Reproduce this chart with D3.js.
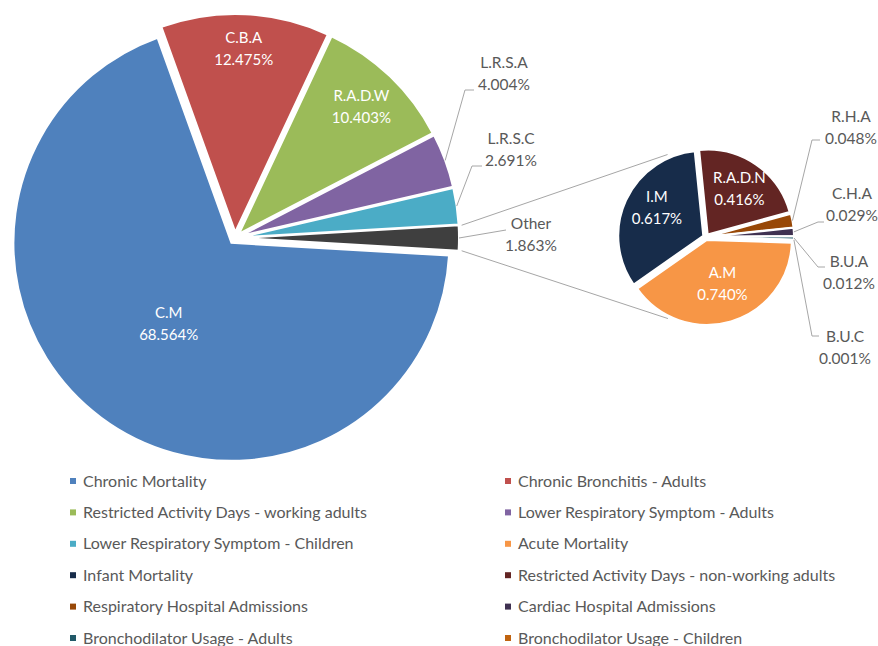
<!DOCTYPE html>
<html>
<head>
<meta charset="utf-8">
<script src="https://cdn.jsdelivr.net/npm/d3@7"></script>
<style>
    body { margin: 0; background: #fff; }
    svg text { font-family: Lato, "Open Sans", sans-serif; }
</style>
</head>
<body>
<script>
// main pie, share of total (%)
const main_labels = ["C.M", "C.B.A", "R.A.D.W", "L.R.S.A", "L.R.S.C", "Other"];
const main_values = [68.564, 12.475, 10.403, 4.004, 2.691, 1.863];

// second pie: what "Other" is made of (% of total)
const sub_labels = ["A.M", "I.M", "R.A.D.N", "R.H.A", "C.H.A", "B.U.A", "B.U.C"];
const sub_values = [0.740, 0.617, 0.416, 0.048, 0.029, 0.012, 0.001];

// legend, row by row (two columns)
const legend_keys = ["C.M", "C.B.A", "R.A.D.W", "L.R.S.A", "L.R.S.C", "A.M",
    "I.M", "R.A.D.N", "R.H.A", "C.H.A", "B.U.A", "B.U.C"];
const legend_names = ["Chronic Mortality", "Chronic Bronchitis - Adults",
    "Restricted Activity Days - working adults", "Lower Respiratory Symptom - Adults",
    "Lower Respiratory Symptom - Children", "Acute Mortality",
    "Infant Mortality", "Restricted Activity Days - non-working adults",
    "Respiratory Hospital Admissions", "Cardiac Hospital Admissions",
    "Bronchodilator Usage - Adults", "Bronchodilator Usage - Children"];

const colors = {
    "C.M": "#4f81bd", "C.B.A": "#c0504d", "R.A.D.W": "#9bbb59", "L.R.S.A": "#8064a2",
    "L.R.S.C": "#4bacc6", "Other": "#3f3f3f", "A.M": "#f79646", "I.M": "#172c4a",
    "R.A.D.N": "#632523", "R.H.A": "#984807", "C.H.A": "#3f3151", "B.U.A": "#215968",
    "B.U.C": "#c0630f"
};

// where labels sit inside a slice: fraction of radius, angle nudge (deg)
const inside_labels = {
    "C.M": [0.47, 1], "C.B.A": [0.84, 0], "R.A.D.W": [0.81, 0],
    "A.M": [0.55, -3], "I.M": [0.64, 7], "R.A.D.N": [0.66, 0]
};
// labels outside with leader lines: text centre + elbow of the leader
const outside_labels = {
    "L.R.S.A": { x: 504, y: 63, elbow: [[465, 90], [474, 90]] },
    "L.R.S.C": { x: 511, y: 139, elbow: [[472, 166], [482, 166]] },
    "Other": { x: 531, y: 224, elbow: [[506, 230]] },
    "R.H.A": { x: 851, y: 117, elbow: [[812, 140], [820, 140]] },
    "C.H.A": { x: 852, y: 194, elbow: [[818, 222], [824, 222]] },
    "B.U.A": { x: 849, y: 262, elbow: [[818, 267], [825, 267]] },
    "B.U.C": { x: 845, y: 337, elbow: [[812, 336], [819, 336]] }
};

class PieOfPieChart {
    constructor(name) {
        this.name = name;
        this.total_width = 878;
        this.total_height = 646;
        this.svg = null;
        this.main = { cx: 235, cy: 238, r: 218, explode: 6 };
        this.sub = { cx: 706, cy: 237, r: 85, explode: 3, start_deg: 92 };
        this.text_color = "#595959";
        this.line_color = "#a6a6a6";
    }

    construct_svg(self = this) {
        self.svg = d3.select("body").append("svg")
            .attr("width", self.total_width)
            .attr("height", self.total_height)
            .attr("id", self.name);
    }

    point(p, a, r) {
        return [p.cx + Math.sin(a) * r, p.cy - Math.cos(a) * r];
    }

    draw_pie(p, labels, values, start, self = this) {
        const data = labels.map((d, i) => ({ key: d, value: values[i] }));
        const pie = d3.pie().sort(null).value(d => d.value)
            .startAngle(start).endAngle(start + 2 * Math.PI);
        const arcs = pie(data);
        const arc = d3.arc().innerRadius(0).outerRadius(p.r);

        const g = self.svg.append("g").attr("transform", "translate(" + p.cx + "," + p.cy + ")");
        const slice = g.selectAll(".slice").data(arcs).enter().append("g")
            .attr("class", "slice")
            .attr("transform", function (d) {
                const m = (d.startAngle + d.endAngle) / 2;
                return "translate(" + Math.sin(m) * p.explode + "," + (-Math.cos(m) * p.explode) + ")";
            });
        slice.append("path")
            .attr("d", arc)
            .attr("fill", d => colors[d.data.key])
            .attr("stroke", "#fff")
            .attr("stroke-width", 2);

        // labels inside slices
        slice.filter(d => inside_labels[d.data.key] !== undefined).each(function (d) {
            const pos = inside_labels[d.data.key];
            const m = (d.startAngle + d.endAngle) / 2 + pos[1] * Math.PI / 180;
            const x = Math.sin(m) * p.r * pos[0];
            const y = -Math.cos(m) * p.r * pos[0];
            const t = d3.select(this).append("text")
                .attr("text-anchor", "middle")
                .attr("fill", "#fff")
                .attr("font-size", 15);
            t.append("tspan").attr("x", x).attr("y", y - 11).attr("dy", "0.35em").text(d.data.key);
            t.append("tspan").attr("x", x).attr("y", y + 11).attr("dy", "0.35em").text(d.data.value.toFixed(3) + "%");
        });

        // labels outside with leader lines
        arcs.filter(d => outside_labels[d.data.key] !== undefined).forEach(function (d) {
            const lab = outside_labels[d.data.key];
            const m = (d.startAngle + d.endAngle) / 2;
            const s = self.point(p, m, p.r + p.explode);
            self.svg.append("polyline")
                .attr("points", [s].concat(lab.elbow).map(q => q.join(",")).join(" "))
                .attr("fill", "none")
                .attr("stroke", self.line_color)
                .attr("stroke-width", 1);
            const t = self.svg.append("text")
                .attr("text-anchor", "middle")
                .attr("fill", self.text_color)
                .attr("font-size", 15.5);
            t.append("tspan").attr("x", lab.x).attr("y", lab.y).attr("dy", "0.35em").text(d.data.key);
            t.append("tspan").attr("x", lab.x).attr("y", lab.y + 22).attr("dy", "0.35em").text(d.data.value.toFixed(3) + "%");
        });
        return arcs;
    }

    construct_graph(self = this) {
        const total = d3.sum(main_values);
        const other = main_values[main_labels.indexOf("Other")];
        // "Other" is centred at 3 o'clock
        const main_start = Math.PI / 2 + Math.PI * other / total;
        const main_arcs = self.draw_pie(self.main, main_labels, main_values, main_start);
        self.draw_pie(self.sub, sub_labels, sub_values, self.sub.start_deg * Math.PI / 180);

        // connector lines from "Other" to the second pie
        const o = main_arcs.find(d => d.data.key === "Other");
        const m = self.main;
        const om = (o.startAngle + o.endAngle) / 2;
        const shift = [Math.sin(om) * m.explode, -Math.cos(om) * m.explode];
        const a0 = self.point(m, o.startAngle, m.r);
        const a1 = self.point(m, o.endAngle, m.r);
        const b0 = self.point(self.sub, -25 * Math.PI / 180, self.sub.r + 6);
        const b1 = self.point(self.sub, 205 * Math.PI / 180, self.sub.r + 5);
        [[a0, b0], [a1, b1]].forEach(function (ln) {
            self.svg.append("line")
                .attr("x1", ln[0][0] + shift[0] + 3).attr("y1", ln[0][1] + shift[1])
                .attr("x2", ln[1][0]).attr("y2", ln[1][1])
                .attr("stroke", self.line_color)
                .attr("stroke-width", 1);
        });
    }

    draw_legend(self = this) {
        const rows = d3.scaleLinear().domain([0, 5]).range([481, 638]);
        const cols = [73, 508];
        const item = self.svg.append("g").attr("class", "legend")
            .selectAll("g").data(legend_keys).enter().append("g")
            .attr("transform", (d, i) => "translate(" + cols[i % 2] + "," + rows(Math.floor(i / 2)) + ")");
        item.append("rect")
            .attr("x", -3).attr("y", -3).attr("width", 6).attr("height", 6)
            .attr("fill", d => colors[d]);
        item.append("text")
            .attr("x", 10).attr("dy", "0.35em")
            .attr("fill", self.text_color)
            .attr("font-size", 16)
            .text((d, i) => legend_names[i]);
    }
}

const chart = new PieOfPieChart("pieOfPie");
chart.construct_svg();
chart.construct_graph();
chart.draw_legend();
</script>
</body>
</html>
